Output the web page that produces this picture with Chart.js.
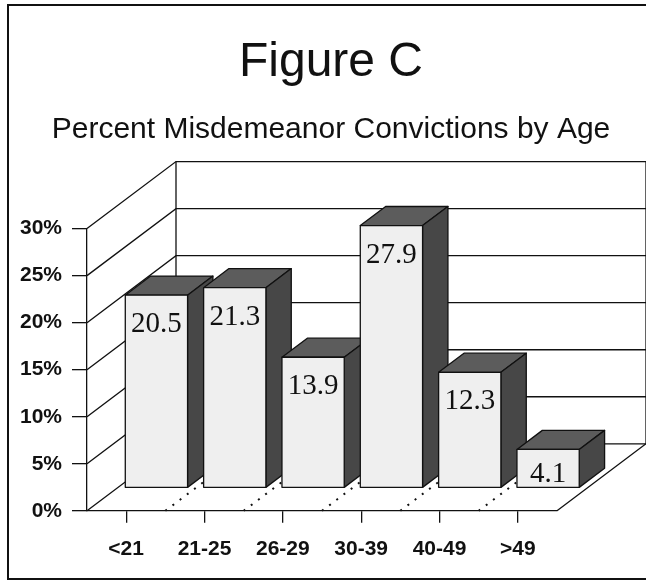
<!DOCTYPE html>
<html>
<head>
<meta charset="utf-8">
<script src="https://cdn.jsdelivr.net/npm/chart.js@4.4.1/dist/chart.umd.min.js"></script>
<style>
	html, body { margin: 0; padding: 0; background: #fff; }
	canvas { display: block; }
</style>
</head>
<body>
<canvas id="chart" width="646" height="581"></canvas>
<script>
const ageGroups = ['<21', '21-25', '26-29', '30-39', '40-49', '>49'];
const convictionPct = [20.5, 21.3, 13.9, 27.9, 12.3, 4.1];
const pctTicks = [0, 5, 10, 15, 20, 25, 30];
const titleText = 'Figure C';
const subtitleText = 'Percent Misdemeanor Convictions by Age';

// 3d look: offset of the back wall, where the bars stand and how deep they are
const DEPTH_X = 89;
const DEPTH_Y = -67;
const BAR_FRONT = 0.34;
const BAR_DEPTH = 0.285;

const AXIS_FONT = { family: '"Liberation Sans", Arial, sans-serif', size: 21, weight: 'bold' };

const framePlugin = {
	id: 'frame',
	beforeDraw(chart) {
		const { ctx, width, height } = chart;
		ctx.save();
		ctx.fillStyle = '#fff';
		ctx.fillRect(0, 0, width, height);
		ctx.strokeStyle = '#111';
		ctx.lineWidth = 2;
		ctx.strokeRect(8, 5, width + 20, height - 7);
		ctx.restore();
	},
};

const wallsPlugin = {
	id: 'walls',
	beforeDatasetsDraw(chart) {
		const { ctx, chartArea } = chart;
		const { left, right, top, bottom } = chartArea;
		const xs = chart.scales.x;
		const ys = chart.scales.y;
		ctx.save();
		ctx.strokeStyle = '#111';
		ctx.lineWidth = 1.3;
		// side wall diagonals and back wall gridlines
		pctTicks.forEach((v) => {
			const py = ys.getPixelForValue(v);
			ctx.beginPath();
			ctx.moveTo(left, py);
			ctx.lineTo(left + DEPTH_X, py + DEPTH_Y);
			ctx.lineTo(right + DEPTH_X, py + DEPTH_Y);
			ctx.stroke();
		});
		ctx.beginPath();
		ctx.moveTo(left + DEPTH_X, top + DEPTH_Y);
		ctx.lineTo(left + DEPTH_X, bottom + DEPTH_Y);
		ctx.moveTo(right + DEPTH_X, top + DEPTH_Y);
		ctx.lineTo(right + DEPTH_X, bottom + DEPTH_Y);
		ctx.lineTo(right, bottom);
		ctx.stroke();
		// dotted floor lines between categories
		ctx.setLineDash([2, 7]);
		ctx.lineWidth = 2;
		for (let i = 1; i < ageGroups.length; i++) {
			const bx = (xs.getPixelForValue(i - 1) + xs.getPixelForValue(i)) / 2;
			ctx.beginPath();
			ctx.moveTo(bx, bottom);
			ctx.lineTo(bx + DEPTH_X, bottom + DEPTH_Y);
			ctx.stroke();
		}
		ctx.restore();
	},
	afterDatasetsDraw(chart) {
		const { ctx } = chart;
		const meta = chart.getDatasetMeta(0);
		const sx = DEPTH_X * BAR_FRONT;
		const sy = DEPTH_Y * BAR_FRONT;
		const dx = DEPTH_X * BAR_DEPTH;
		const dy = DEPTH_Y * BAR_DEPTH;
		ctx.save();
		ctx.strokeStyle = '#111';
		ctx.lineWidth = 1.3;
		ctx.lineJoin = 'round';
		meta.data.forEach((bar, i) => {
			const { x, y, base, width } = bar.getProps(['x', 'y', 'base', 'width'], true);
			const x0 = x - width / 2 + sx;
			const x1 = x + width / 2 + sx;
			const y0 = y + sy;
			const y1 = base + sy;
			// top
			ctx.fillStyle = '#5c5c5c';
			ctx.beginPath();
			ctx.moveTo(x0, y0);
			ctx.lineTo(x0 + dx, y0 + dy);
			ctx.lineTo(x1 + dx, y0 + dy);
			ctx.lineTo(x1, y0);
			ctx.closePath();
			ctx.fill();
			ctx.stroke();
			// right side
			ctx.fillStyle = '#474747';
			ctx.beginPath();
			ctx.moveTo(x1, y0);
			ctx.lineTo(x1 + dx, y0 + dy);
			ctx.lineTo(x1 + dx, y1 + dy);
			ctx.lineTo(x1, y1);
			ctx.closePath();
			ctx.fill();
			ctx.stroke();
			// front
			ctx.fillStyle = '#efefef';
			ctx.fillRect(x0, y0, x1 - x0, y1 - y0);
			ctx.strokeRect(x0, y0, x1 - x0, y1 - y0);
			// value label
			ctx.fillStyle = '#111';
			ctx.font = '29px "Liberation Serif", "Times New Roman", serif';
			ctx.textAlign = 'center';
			ctx.textBaseline = 'alphabetic';
			ctx.fillText(convictionPct[i].toFixed(1), (x0 + x1) / 2, Math.min(y0 + 37, y1 - 5));
		});
		ctx.restore();
	},
};

new Chart(document.getElementById('chart'), {
	type: 'bar',
	data: {
		labels: ageGroups,
		datasets: [
			{
				data: convictionPct,
				backgroundColor: 'rgba(0,0,0,0)',
				borderWidth: 0,
				categoryPercentage: 1,
				barPercentage: 0.795,
			},
		],
	},
	options: {
		responsive: false,
		animation: false,
		layout: {
			padding: { left: 18, right: 2, top: 0, bottom: 5 },
		},
		plugins: {
			legend: { display: false },
			tooltip: { enabled: false },
			title: {
				display: true,
				text: titleText,
				color: '#111',
				font: { family: '"Liberation Sans", Arial, sans-serif', size: 48, weight: 'normal', lineHeight: 1.2 },
				padding: { top: 34, bottom: 0 },
			},
			subtitle: {
				display: true,
				text: subtitleText,
				color: '#111',
				font: { family: '"Liberation Sans", Arial, sans-serif', size: 30, weight: 'normal', lineHeight: 1.2 },
				padding: { top: 20, bottom: 81 },
			},
		},
		scales: {
			x: {
				grid: { offset: false, drawOnChartArea: false, tickLength: 12, color: '#111', lineWidth: 1.3 },
				border: { color: '#111', width: 1.3 },
				ticks: { color: '#111', font: AXIS_FONT, padding: 14, maxRotation: 0 },
			},
			y: {
				min: 0,
				max: 30,
				afterBuildTicks: (scale) => {
					scale.ticks = pctTicks.map((v) => ({ value: v }));
				},
				afterFit: (scale) => {
					scale.width = 69;
				},
				grid: { drawOnChartArea: false, tickLength: 15, color: '#111', lineWidth: 1.3 },
				border: { color: '#111', width: 1.3 },
				ticks: { color: '#111', font: AXIS_FONT, padding: 10, callback: (v) => v + '%' },
			},
			// empty right axis only reserves room for the back wall
			spacer: {
				type: 'linear',
				position: 'right',
				grid: { display: false },
				border: { display: false },
				ticks: { display: false },
				afterFit: (scale) => {
					scale.width = 87;
				},
			},
		},
	},
	plugins: [framePlugin, wallsPlugin],
});
</script>
</body>
</html>
